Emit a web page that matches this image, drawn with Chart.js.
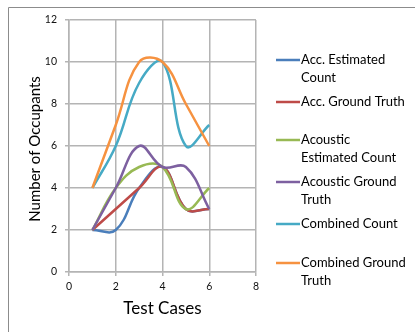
<!DOCTYPE html>
<html>
<head>
<meta charset="utf-8">
<script src="https://cdn.jsdelivr.net/npm/chart.js@4/dist/chart.umd.min.js"></script>
<style>
  html, body { margin: 0; padding: 0; background: #fff; }
  #wrap { position: relative; width: 415px; height: 332px; }
</style>
</head>
<body>
<div id="wrap"><canvas id="c" width="415" height="332"></canvas></div>
<script>
// Test case numbers (x) and occupant counts per series (y)
const testCases = [1, 2, 3, 4, 5, 6];
const accEstimated = [2, 2, 4, 5, 3, 3];
const accGroundTruth = [2, 3, 4, 5, 3, 3];
const acousticEstimated = [2, 4, 5, 5, 3, 4];
const acousticGroundTruth = [2, 4, 6, 5, 5, 3];
const combinedCount = [4, 6, 9, 10, 6, 7];
const combinedGroundTruth = [4, 7, 10, 10, 8, 6];

const seriesNames = [
  ['Acc. Estimated', 'Count'],
  ['Acc. Ground Truth'],
  ['Acoustic', 'Estimated Count'],
  ['Acoustic Ground', 'Truth'],
  ['Combined Count'],
  ['Combined Ground', 'Truth']
];
const seriesValues = [accEstimated, accGroundTruth, acousticEstimated,
                      acousticGroundTruth, combinedCount, combinedGroundTruth];
const colors = ['#4A7EBB', '#BE4B48', '#98B954', '#7D60A0', '#46AAC5', '#F69240'];

const xTicks = [0, 2, 4, 6, 8];
const yTicks = [0, 2, 4, 6, 8, 10, 12];

const FONT = 'Lato, "Open Sans", sans-serif';

const datasets = seriesValues.map((vals, i) => ({
  label: seriesNames[i].join(' '),
  data: testCases.map((x, j) => ({ x: x, y: vals[j] })),
  borderColor: colors[i],
  backgroundColor: colors[i],
  borderWidth: 2.5,
  pointRadius: 0,
  pointHoverRadius: 0,
  showLine: true,
  tension: 0.4,
  fill: false,
  order: seriesValues.length - i
}));

// Page frame, axis titles and the wrapped legend on the right
const decorations = {
  id: 'decorations',
  beforeDraw(chart) {
    const ctx = chart.ctx;
    ctx.save();
    ctx.strokeStyle = '#8c8c8c';
    ctx.lineWidth = 1;
    ctx.beginPath();
    ctx.moveTo(8.5, 332);
    ctx.lineTo(8.5, 7.5);
    ctx.lineTo(415, 7.5);
    ctx.stroke();
    ctx.restore();
  },
  afterDraw(chart) {
    const ctx = chart.ctx;
    const area = chart.chartArea;
    ctx.save();
    ctx.fillStyle = '#000';
    ctx.textAlign = 'center';
    ctx.textBaseline = 'middle';
    ctx.font = '17px ' + FONT;
    ctx.fillText('Test Cases', (area.left + area.right) / 2, 309);
    ctx.translate(35, (area.top + area.bottom) / 2 + 3);
    ctx.rotate(-Math.PI / 2);
    ctx.font = '15px ' + FONT;
    ctx.fillText('Number of Occupants', 0, 0);
    ctx.restore();

    const firstLineY = [60, 102, 140, 182, 224, 263];
    const lineGap = 18;
    ctx.save();
    ctx.font = '13px ' + FONT;
    ctx.textBaseline = 'middle';
    ctx.textAlign = 'left';
    ctx.fillStyle = '#000';
    chart.data.datasets.forEach((ds, i) => {
      const y = firstLineY[i];
      ctx.strokeStyle = ds.borderColor;
      ctx.lineWidth = 2.5;
      ctx.beginPath();
      ctx.moveTo(276, y);
      ctx.lineTo(300, y);
      ctx.stroke();
      seriesNames[i].forEach((t, k) => {
        ctx.fillText(t, 301, y + k * lineGap);
      });
    });
    ctx.restore();
  }
};

new Chart(document.getElementById('c'), {
  type: 'scatter',
  data: { datasets: datasets },
  options: {
    responsive: false,
    animation: false,
    events: [],
    layout: { padding: { top: 20, right: 159, left: 0, bottom: 0 } },
    plugins: { legend: { display: false }, tooltip: { enabled: false } },
    scales: {
      x: {
        type: 'linear',
        min: 0, max: 8,
        afterBuildTicks(scale) { scale.ticks = xTicks.map(v => ({ value: v })); },
        afterFit(scale) { scale.height = 60; },
        grid: { color: '#b4b4b4', lineWidth: 1.5, tickLength: 4, drawTicks: true },
        border: { color: '#b4b4b4', width: 1.5 },
        ticks: { color: '#111', font: { family: FONT, size: 10.5 }, padding: 4, maxRotation: 0 }
      },
      y: {
        type: 'linear',
        min: 0, max: 12,
        afterBuildTicks(scale) { scale.ticks = yTicks.map(v => ({ value: v })); },
        afterFit(scale) { scale.width = 69; },
        grid: { color: '#b4b4b4', lineWidth: 1.5, tickLength: 4, drawTicks: true },
        border: { color: '#b4b4b4', width: 1.5 },
        ticks: { color: '#111', font: { family: FONT, size: 10.5 }, padding: 8 }
      }
    }
  },
  plugins: [decorations]
});
</script>
</body>
</html>
